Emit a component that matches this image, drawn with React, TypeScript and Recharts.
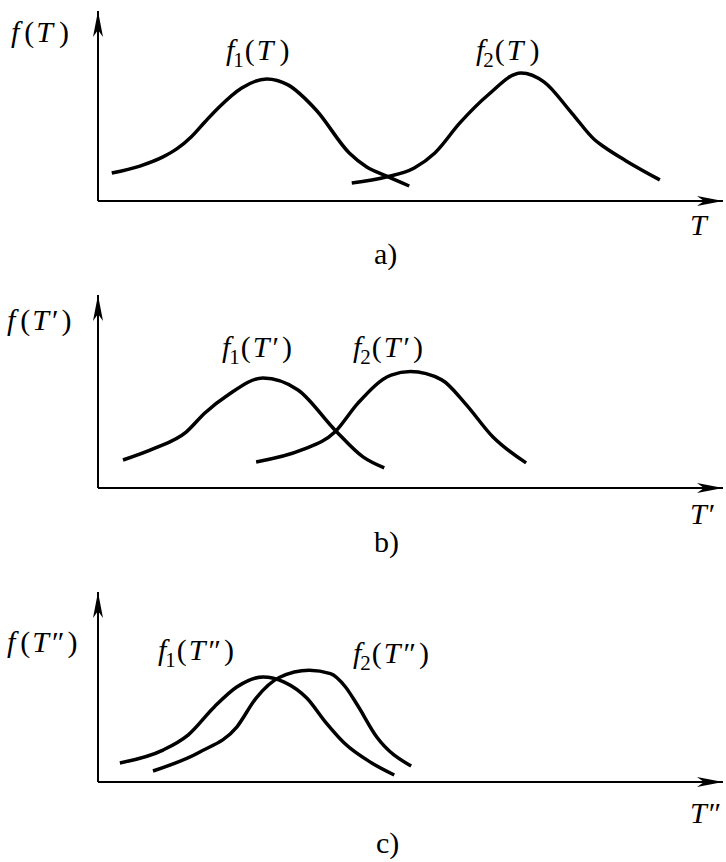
import React from "react";
import { LineChart, Line, XAxis, YAxis, ReferenceLine, ReferenceDot } from "recharts";

// Panel a) values (x: 0-100 along T axis, y: 0-100 along f axis)
const f1A = [
  { x: 2.2, y: 14.7 }, { x: 6.7, y: 18.4 }, { x: 10.4, y: 23.2 }, { x: 12.6, y: 27.4 },
  { x: 14.9, y: 33.7 }, { x: 17.1, y: 41.6 }, { x: 19.4, y: 49.5 }, { x: 23.0, y: 59.5 },
  { x: 27.0, y: 64.2 }, { x: 30.4, y: 61.1 }, { x: 34.9, y: 47.9 },
  { x: 40.2, y: 25.3 }, { x: 43.0, y: 17.9 }, { x: 46.1, y: 13.2 }, { x: 49.8, y: 7.9 },
];
const f2A = [
  { x: 40.6, y: 9.5 }, { x: 46.1, y: 12.6 }, { x: 50.6, y: 17.4 }, { x: 53.9, y: 25.3 },
  { x: 57.9, y: 41.1 }, { x: 62.4, y: 55.8 }, { x: 67.7, y: 67.4 }, { x: 71.4, y: 62.6 },
  { x: 75.8, y: 46.3 }, { x: 79.5, y: 32.1 }, { x: 81.0, y: 28.4 }, { x: 84.5, y: 21.1 },
  { x: 89.9, y: 11.1 },
];
// Panel b)
const f1B = [
  { x: 4.0, y: 14.5 }, { x: 9.0, y: 20.5 }, { x: 14.1, y: 29.0 }, { x: 17.1, y: 38.9 },
  { x: 20.8, y: 48.2 }, { x: 26.4, y: 57.0 }, { x: 32.0, y: 50.8 }, { x: 37.9, y: 30.1 },
  { x: 42.4, y: 16.1 }, { x: 45.8, y: 10.4 },
];
const f2B = [
  { x: 25.3, y: 13.5 }, { x: 32.6, y: 19.7 }, { x: 37.9, y: 29.0 }, { x: 41.6, y: 44.0 },
  { x: 46.9, y: 58.5 }, { x: 50.0, y: 60.3 }, { x: 55.0, y: 56.0 }, { x: 58.7, y: 44.0 },
  { x: 63.2, y: 26.4 }, { x: 68.5, y: 13.0 },
];
// Panel c)
const f1C = [
  { x: 3.5, y: 10.0 }, { x: 10.4, y: 16.8 }, { x: 14.4, y: 24.7 }, { x: 18.6, y: 39.5 },
  { x: 22.2, y: 50.0 }, { x: 26.4, y: 55.3 }, { x: 29.8, y: 52.6 }, { x: 33.4, y: 44.2 },
  { x: 36.5, y: 31.1 }, { x: 39.4, y: 20.5 }, { x: 43.8, y: 10.0 }, { x: 47.4, y: 3.7 },
];
const f2C = [
  { x: 8.8, y: 5.8 }, { x: 16.3, y: 15.8 }, { x: 22.2, y: 28.9 }, { x: 25.3, y: 44.2 },
  { x: 29.0, y: 55.0 }, { x: 33.8, y: 58.8 }, { x: 37.2, y: 57.0 }, { x: 39.6, y: 50.0 },
  { x: 41.5, y: 40.5 }, { x: 44.6, y: 23.7 }, { x: 50.1, y: 8.4 },
];

const primes = ["", "\u2032", "\u2033"];
const captions = ["a)", "b)", "c)"];

const FONT = '"Liberation Serif", "DejaVu Serif", serif';
const FS = 30;

const ArrowRight = (props: any) => {
  const { cx, cy } = props;
  const L = 26, W = 5, N = 7;
  return (
    <path
      d={`M${cx},${cy} L${cx - L},${cy - W} L${cx - L + N},${cy} L${cx - L},${cy + W} Z`}
      fill="#000"
    />
  );
};
const ArrowUp = (props: any) => {
  const { cx, cy } = props;
  const L = 26, W = 5, N = 7;
  return (
    <path
      d={`M${cx},${cy} L${cx - W},${cy + L} L${cx},${cy + L - N} L${cx + W},${cy + L} Z`}
      fill="#000"
    />
  );
};

const textStyle: React.CSSProperties = { fontFamily: FONT, fontSize: FS };

function Fn({ x, y, sub, p }: { x: number; y: number; sub?: string; p: string }) {
  return (
    <text x={x} y={y} style={textStyle} fill="#000">
      <tspan fontStyle="italic">f</tspan>
      {sub ? (
        <>
          <tspan style={{ fontSize: 21 }} dy={7} dx={-1}>{sub}</tspan>
          <tspan dy={-7} dx={1}>(</tspan>
        </>
      ) : (
        <tspan dx={5}>(</tspan>
      )}
      <tspan fontStyle="italic" dx={2}>T</tspan>
      {p ? <tspan dx={3}>{p}</tspan> : null}
      <tspan dx={p ? 3 : 6}>)</tspan>
    </text>
  );
}

function Panel({
  top, height, mTop, mBottom, d1, d2, idx, labels,
}: {
  top: number; height: number; mTop: number; mBottom: number;
  d1: { x: number; y: number }[]; d2: { x: number; y: number }[];
  idx: number;
  labels: { fy: number; l1: [number, number]; l2: [number, number]; ty: number; cy: number; fx: number; cx: number };
}) {
  const p = primes[idx];
  return (
    <div style={{ position: "absolute", left: 0, top, width: 726, height }}>
      <LineChart width={726} height={height} margin={{ top: mTop, right: 3, left: 98, bottom: mBottom }}>
        <XAxis type="number" dataKey="x" domain={[0, 100]} hide />
        <YAxis type="number" dataKey="y" domain={[0, 100]} hide />
        <ReferenceLine y={0} stroke="#000" strokeWidth={2} ifOverflow="visible" />
        <ReferenceLine x={0} stroke="#000" strokeWidth={2} ifOverflow="visible" />
        <ReferenceDot x={100} y={0} r={1} shape={ArrowRight} ifOverflow="visible" />
        <ReferenceDot x={0} y={100} r={1} shape={ArrowUp} ifOverflow="visible" />
        <Line data={d1} dataKey="y" type="monotone" stroke="#000" strokeWidth={3.5} dot={false} isAnimationActive={false} />
        <Line data={d2} dataKey="y" type="monotone" stroke="#000" strokeWidth={3.5} dot={false} isAnimationActive={false} />
      </LineChart>
      <svg width={726} height={height} style={{ position: "absolute", left: 0, top: 0, pointerEvents: "none" }}>
        <Fn x={labels.fx} y={labels.fy} p={p} />
        <Fn x={labels.l1[0]} y={labels.l1[1]} sub="1" p={p} />
        <Fn x={labels.l2[0]} y={labels.l2[1]} sub="2" p={p} />
        <text x={690} y={labels.ty} style={textStyle} fill="#000">
          <tspan fontStyle="italic">T</tspan>
          {p ? <tspan dx={2}>{p}</tspan> : null}
        </text>
        <text x={labels.cx} y={labels.cy} style={textStyle} fill="#000">{captions[idx]}</text>
      </svg>
    </div>
  );
}

export default function App() {
  return (
    <div style={{ position: "absolute", left: 0, top: 0, width: 726, height: 862, background: "#fff" }}>
      <Panel top={0} height={290} mTop={11} mBottom={89} d1={f1A} d2={f2A} idx={0}
        labels={{ fx: 11, fy: 42, l1: [226, 60], l2: [476, 60], ty: 235, cx: 374, cy: 264 }} />
      <Panel top={280} height={290} mTop={15} mBottom={82} d1={f1B} d2={f2B} idx={1}
        labels={{ fx: 7, fy: 50, l1: [222, 77], l2: [353, 77], ty: 244, cx: 374, cy: 272 }} />
      <Panel top={572} height={290} mTop={20} mBottom={80} d1={f1C} d2={f2C} idx={2}
        labels={{ fx: 7, fy: 80, l1: [158, 88], l2: [353, 91], ty: 251, cx: 376, cy: 281 }} />
    </div>
  );
}
